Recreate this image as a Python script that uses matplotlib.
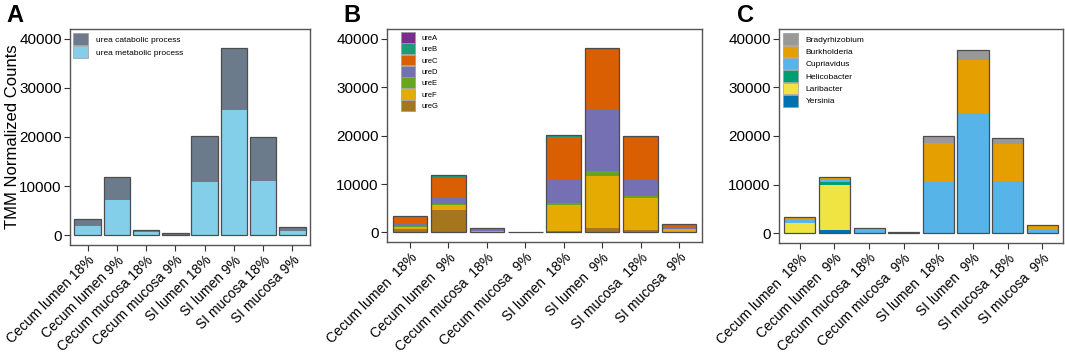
import numpy as np
import matplotlib
matplotlib.use("Agg")
import matplotlib.pyplot as plt
from matplotlib.patches import Patch

plt.rcParams['font.family'] = ['Liberation Sans', 'DejaVu Sans']

samples_a = ['Cecum lumen 18%', 'Cecum lumen 9%', 'Cecum mucosa 18%', 'Cecum mucosa 9%',
             'SI lumen 18%', 'SI lumen 9%', 'SI mucosa 18%', 'SI mucosa 9%']
samples_bc = ['Cecum lumen  18%', 'Cecum lumen  9%', 'Cecum mucosa  18%', 'Cecum mucosa  9%',
              'SI lumen  18%', 'SI lumen  9%', 'SI mucosa  18%', 'SI mucosa  9%']

# panel A - GO terms (bottom to top)
metabolic = [1900, 7140, 600, 50, 10880, 25510, 11090, 880]
catabolic = [1430, 4700, 490, 350, 9260, 12650, 8840, 820]

# panel B - genes (bottom to top)
ureG = [700, 4550, 100, 100, 400, 900, 550, 150]
ureF = [470, 1170, 200, 20, 5320, 10690, 6480, 500]
ureE = [80, 150, 30, 0, 420, 1170, 490, 60]
ureD = [550, 1230, 200, 10, 4690, 12690, 3450, 390]
ureC = [1370, 4140, 300, 20, 8890, 12140, 8480, 620]
ureB = [230, 560, 50, 0, 350, 340, 270, 50]
ureA = [50, 130, 20, 0, 130, 140, 140, 20]

# panel C - genera (bottom to top)
yersinia = [50, 690, 20, 0, 0, 0, 0, 0]
laribacter = [1940, 9210, 60, 10, 40, 60, 40, 20]
helicobacter = [60, 680, 20, 0, 20, 30, 20, 10]
cupriavidus = [910, 620, 500, 40, 10520, 24650, 10590, 795]
burkholderia = [200, 280, 380, 60, 7980, 10860, 7700, 685]
bradyrhizobium = [70, 140, 50, 40, 1510, 2060, 1170, 210]

fig = plt.figure(figsize=(10.65, 3.53), dpi=100)
axA = fig.add_axes([0.0657, 0.306, 0.2254, 0.612])
axB = fig.add_axes([0.3634, 0.314, 0.2958, 0.604])
axC = fig.add_axes([0.7315, 0.312, 0.2667, 0.606])

edge = '#4d4d4d'


def stacked(ax, labels, layers, names, colors, fs, hl, lspace, anchor):
    x = np.arange(1, len(labels) + 1)
    bottom = np.zeros(len(labels))
    for vals, c in zip(layers, colors):
        ax.bar(x, vals, bottom=bottom, width=0.9, color=c, edgecolor='none', linewidth=0)
        bottom += np.array(vals)
    ax.bar(x, bottom, width=0.9, facecolor='none', edgecolor=edge, linewidth=0.9)
    ax.set_xlim(0.4, len(labels) + 0.6)
    ax.set_ylim(-2000, 42000)
    ax.set_yticks([0, 10000, 20000, 30000, 40000])
    ax.set_xticks(x)
    ax.set_xticklabels(labels, rotation=45, ha='right', rotation_mode='anchor', fontsize=10)
    ax.tick_params(axis='y', labelsize=11, length=4, color='#333333', pad=2)
    ax.tick_params(axis='x', length=4, color='#333333', pad=2)
    for s in ax.spines.values():
        s.set_color('#555555')
        s.set_linewidth(1)
    handles = [Patch(facecolor=c, edgecolor='#9a9a9a', linewidth=0.5, label=n)
               for n, c in zip(names, colors)]
    ax.legend(handles=handles[::-1], loc='upper left', bbox_to_anchor=anchor, frameon=False,
              fontsize=fs, handlelength=hl, handleheight=hl, labelspacing=lspace,
              borderpad=0, borderaxespad=0, handletextpad=0.9)


stacked(axA, samples_a, [metabolic, catabolic],
        ['urea metabolic process', 'urea catabolic process'],
        ['#83cfe9', '#6b7b8c'], 6, 1.85, 0.08, (0.012, 0.98))

stacked(axB, samples_bc, [ureG, ureF, ureE, ureD, ureC, ureB, ureA],
        ['ureG', 'ureF', 'ureE', 'ureD', 'ureC', 'ureB', 'ureA'],
        ['#a6761d', '#e6ab02', '#66a61e', '#7570b3', '#d95f02', '#1b9e77', '#7b2d8e'],
        5.5, 1.75, 0.1, (0.045, 0.985))

stacked(axC, samples_bc, [yersinia, laribacter, helicobacter, cupriavidus, burkholderia, bradyrhizobium],
        ['Yersinia', 'Laribacter', 'Helicobacter', 'Cupriavidus', 'Burkholderia', 'Bradyrhizobium'],
        ['#0072b2', '#f0e442', '#009e73', '#56b4e9', '#e69f00', '#999999'],
        6, 1.75, 0.1, (0.015, 0.98))

axA.set_ylabel('TMM Normalized Counts', fontsize=12)
axA.yaxis.set_label_coords(-0.21, 0.5)

fig.text(0.006, 0.99, 'A', fontsize=17, fontweight='bold', va='top')
fig.text(0.322, 0.99, 'B', fontsize=17, fontweight='bold', va='top')
fig.text(0.692, 0.99, 'C', fontsize=17, fontweight='bold', va='top')

fig.savefig('out.png', dpi=100)
